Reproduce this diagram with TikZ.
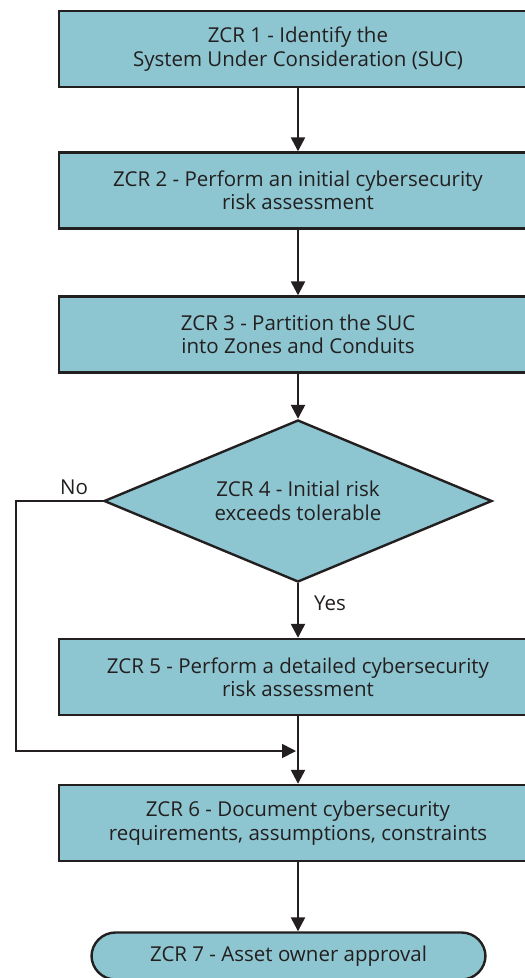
\documentclass[tikz,border=0pt]{standalone}
\usepackage{fontspec}
\setmainfont{Open Sans}
\usetikzlibrary{shapes.geometric,arrows.meta}
\definecolor{zcrfill}{HTML}{8DC6D0}
\definecolor{zcrink}{HTML}{231F20}
\tikzset{
  zcrbox/.style={draw=zcrink, fill=zcrfill, line width=2.4pt, minimum width=478pt,
    minimum height=76pt, align=center, text=zcrink, font=\fontsize{20.5}{23.5}\selectfont},
  zcrdecision/.style={zcrbox, diamond, aspect=2.4, inner sep=0pt, minimum width=388pt,
    minimum height=162pt},
  zcrend/.style={zcrbox, rounded corners=24pt, minimum width=394pt, minimum height=47pt},
  flowarrow/.style={draw=zcrink, line width=2.4pt, -{Triangle[length=14pt,width=14pt]}},
  branchlabel/.style={text=zcrink, font=\fontsize{20.5}{23.5}\selectfont}
}
\begin{document}
\begin{tikzpicture}[x=1pt,y=-1pt]
    \useasboundingbox (0,0) rectangle (525,978);
    \clip (0,0) rectangle (525,978);
    \node[zcrbox] (zcr1) at (298,49) {ZCR 1 - Identify the\\System Under Consideration (SUC)};
    \node[zcrbox] (zcr2) at (298,190.5) {ZCR 2 - Perform an initial cybersecurity\\risk assessment};
    \node[zcrbox] (zcr3) at (298,334.5) {ZCR 3 - Partition the SUC\\into Zones and Conduits};
    \node[zcrdecision] (zcr4) at (298,501) {ZCR 4 - Initial risk\\exceeds tolerable};
    \node[zcrbox] (zcr5) at (298,677) {ZCR 5 - Perform a detailed cybersecurity\\risk assessment};
    \node[zcrbox] (zcr6) at (298,823) {ZCR 6 - Document cybersecurity\\requirements, assumptions, constraints};
    \node[zcrend] (zcr7) at (288.5,956) {ZCR 7 - Asset owner approval};
    % branch labels
    \node[branchlabel] (nolabel) at (74,487) {No};
    \node[branchlabel] (yeslabel) at (330,603) {Yes};
    % main flow
    \draw[flowarrow] (zcr1) -- (zcr2);
    \draw[flowarrow] (zcr2) -- (zcr3);
    \draw[flowarrow] (zcr3) -- (zcr4);
    \draw[flowarrow] (zcr4) -- (zcr5);
    \draw[flowarrow] (zcr5) -- (zcr6);
    \draw[flowarrow] (zcr6.south) -- (zcr6.south |- zcr7.north);
    % "No" branch skips ZCR 5
    \coordinate (nocorner) at (16,501);
    \coordinate (merge) at (296,751);
    \draw[flowarrow, line width=1.8pt] (zcr4.west) -- (nocorner) |- (merge);
\end{tikzpicture}
\end{document}
